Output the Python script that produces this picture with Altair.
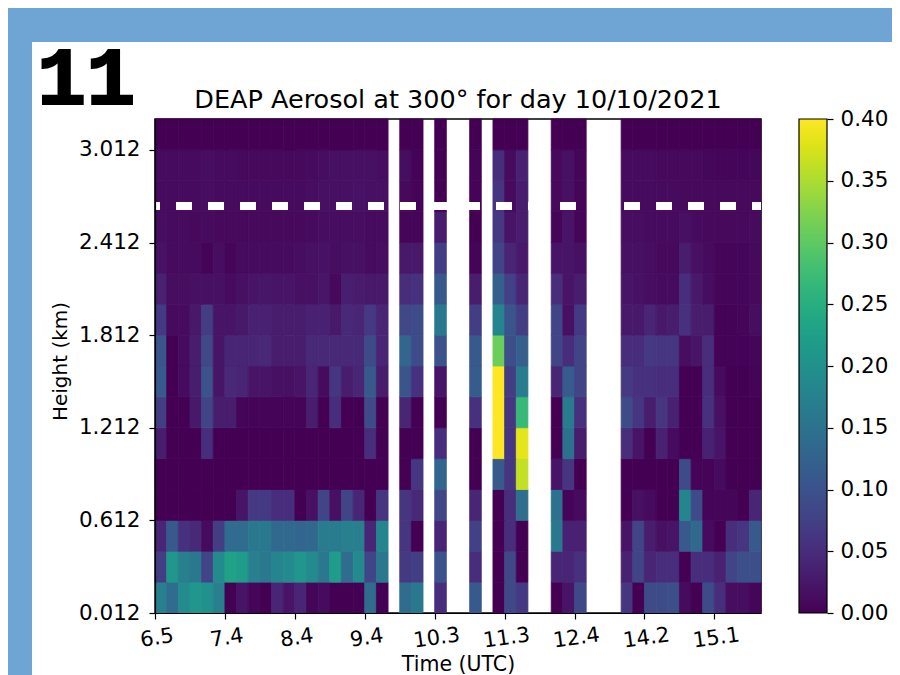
import json
import altair as alt
import pandas as pd

TITLE = "DEAP Aerosol at 300° for day 10/10/2021"
X_TICK_LABELS = ["6.5", "7.4", "8.4", "9.4", "10.3", "11.3", "12.4", "14.2", "15.1"]
Y_TICK_VALUES = [0.012, 0.612, 1.212, 1.812, 2.412, 3.012]
CBAR_TICKS = [0.0, 0.05, 0.10, 0.15, 0.20, 0.25, 0.30, 0.35, 0.40]
CBAR_COLORS = ["#440154", "#471365", "#482475", "#463480", "#414487", "#3b528b", "#355f8d",
               "#2f6c8e", "#2a788e", "#25848e", "#21918c", "#1e9c89", "#22a884", "#2fb47c",
               "#43bf71", "#5ec962", "#7ad151", "#9bd93c", "#bddf26", "#dfe318", "#fde725"]
DASH_HEIGHT = [2.648]
N_COLS = 52
Y0, STEP = 0.012, 0.2

# Columns that hold data (the rest are blank gaps)
COLS = list(range(20)) + [21, 22, 24, 27, 29, 30, 31, 34, 35, 36] + list(range(40, 52))

# One row per height bin, bottom to top
r00 = [.17,.14,.19,.21,.20,.17,0,.02,.005,0,.04,.02,.04,.005,.01,0,0,0,.14,0,
       .14,.16,.05,.11,0,.085,.065,0,.02,.085,
       .06,0,.09,.09,.095,.01,0,.09,.05,.012,.012,.005]
r01 = [.07,.21,.17,.16,.08,.19,.23,.22,.17,.16,.18,.19,.21,.19,.16,.22,.14,.19,.08,.16,
       .065,.07,.10,.05,0,.085,0,.04,.04,.055,
       .035,.08,.04,.05,.05,0,.05,.05,.035,.08,.095,.095]
r02 = [.04,.11,.055,.045,.01,.07,.14,.14,.16,.16,.135,.135,.13,.135,.165,.165,.17,.17,.04,.18,
       .06,0,.04,.075,0,.05,0,.16,.035,.035,
       .02,.08,.03,.015,.02,.11,.135,.01,0,.05,.06,.11]
r03 = [0,0,0,0,0,0,0,.02,.065,.065,.05,.05,0,.015,.08,.015,.08,.04,0,.06,
       .06,.045,.085,.04,0,.05,.145,.15,.005,.01,
       0,.015,.01,0,0,.18,.09,.005,.005,.005,0,.04]
r04 = [0,0,0,0,0,0,0,0,0,0,0,0,0,0,0,0,0,0,0,0,
       0,.06,.13,0,.11,.06,.365,.02,.06,0,
       0,0,0,0,0,.09,.003,.003,.01,0,0,0]
r05 = [.03,0,0,0,.05,0,0,0,0,0,0,0,0,0,0,0,0,0,.05,0,
       0,0,.05,0,.4,.06,.385,0,.15,.03,
       .05,.02,0,.035,.01,0,0,.035,.02,0,0,0]
r06 = [.07,0,0,.025,.08,.03,.03,.005,.003,.003,.003,.003,.003,.03,0,.05,0,0,.09,0,
       .04,0,0,.055,.4,.06,.27,0,.165,.055,
       .09,.06,.03,.06,.035,0,0,.055,.015,0,0,0]
r07 = [.11,0,.01,.03,.10,.02,.045,.04,.02,.02,.015,.015,.02,.04,.01,.06,.03,.04,.11,.03,
       .105,.055,.02,.115,.4,.07,.165,.04,.115,.08,
       .065,.055,.055,.05,.05,0,0,.05,.01,0,0,.003]
r08 = [.105,0,.01,.03,.085,.02,.04,.04,.04,.045,.03,.03,.03,.045,.045,.045,.045,.045,.09,.04,
       .13,.09,.10,.11,.31,.095,.12,.08,.05,.08,
       .05,.05,.065,.06,.06,.012,.02,.05,.002,.002,.002,.005]
r09 = [.065,.01,.01,.025,.07,.02,.02,.025,.035,.035,.03,.03,.03,.035,.035,.025,.045,.04,.065,.04,
       .085,.09,.16,.07,.18,.105,.07,.08,.015,.065,
       .025,.025,.04,.025,.03,.055,.03,.03,.002,.002,.005,.012]
r10 = [.035,.012,.012,.015,.015,.015,.01,.015,.02,.022,.02,.02,.015,.015,.022,.008,.032,.028,.025,.025,
       .05,.055,.11,.03,.12,.075,.04,.05,.02,.03,
       .02,.018,.012,.01,.01,.05,.025,.012,.005,.005,.005,.008]
r11 = [.018,.01,.01,.01,.003,.012,.005,.01,.01,.01,.01,.01,.012,.015,.018,.012,.015,.015,.01,.012,
       .025,.025,.07,.003,.08,.04,.025,.02,.02,.015,
       .015,.015,.012,.008,.008,.03,.015,.01,.005,.005,.005,.008]
r12 = [.012,.01,.01,.008,.01,.008,.008,.008,.008,.008,.008,.008,.008,.01,.012,.012,.012,.012,.01,.01,
       .005,.005,.03,0,.065,.02,.03,.005,.02,.005,
       .012,.012,.01,.01,.01,.015,.01,.008,.008,.008,.008,.01]
r13 = [.01,.01,.01,.01,.012,.01,.01,.01,.01,.01,.01,.01,.01,.012,.015,.015,.015,.018,.015,.015,
       .008,.003,0,.003,.06,.01,.03,.008,.015,.005,
       .01,.01,.01,.01,.01,.008,.008,.008,.008,.008,.008,.008]
r14 = [.01,.01,.01,.01,.012,.01,.01,.008,.008,.008,.008,.008,.008,.01,.012,.015,.015,.016,.016,.012,
       .012,.002,0,.003,.05,.01,.035,.008,.015,.005,
       .01,.01,.01,.008,.008,.008,.008,.006,.005,.005,.005,.006]
r15 = [0] * 42

ROWS = [r00, r01, r02, r03, r04, r05, r06, r07, r08, r09, r10, r11, r12, r13, r14, r15]

records = []
for r, row in enumerate(ROWS):
    for c, v in zip(COLS, row):
        records.append({"c0": c, "c1": c + 1,
                        "h0": Y0 + r * STEP, "h1": Y0 + (r + 1) * STEP, "v": v, "edge": v})
df = pd.DataFrame(records)

PW, PH = 606, 494
LEFT, TOP = 147, 111
RIGHT, BOTTOM = 884 - LEFT - PW, 667 - TOP - PH
FONT = "DejaVu Sans"
BLUE = "#6ea5d4"
LABEL_SIZE = 21.5

blank = pd.DataFrame({"a": [0]})
band_top = alt.Chart(blank).mark_rect(color=BLUE).encode(
    x=alt.value(-LEFT), x2=alt.value(PW + RIGHT), y=alt.value(-TOP), y2=alt.value(-TOP + 34))
band_left = alt.Chart(blank).mark_rect(color=BLUE).encode(
    x=alt.value(-LEFT), x2=alt.value(-LEFT + 24), y=alt.value(-TOP), y2=alt.value(PH + BOTTOM))

labels_js = json.dumps(X_TICK_LABELS)
x_enc = alt.X("c0:Q", scale=alt.Scale(domain=[0, N_COLS], nice=False, zero=False),
              axis=alt.Axis(values=list(range(0, 54, 6)), labelExpr=f"{labels_js}[datum.value/6]",
                            labelAngle=352, labelAlign="center", labelBaseline="top",
                            labelFontSize=21, labelFont=FONT, labelColor="black", labelPadding=8,
                            tickColor="black", tickSize=6, tickWidth=1.2,
                            domainColor="black", domainWidth=1.2, grid=False, zindex=1,
                            title="Time (UTC)", titleFont=FONT, titleFontSize=20.5,
                            titleFontWeight="normal", titleColor="black", titlePadding=3))
y_enc = alt.Y("h0:Q", scale=alt.Scale(domain=[Y0, Y0 + 16 * STEP], nice=False, zero=False),
              axis=alt.Axis(values=Y_TICK_VALUES, format=".3f",
                            labelFontSize=LABEL_SIZE, labelFont=FONT, labelColor="black", labelPadding=9,
                            tickColor="black", tickSize=6, tickWidth=1.2,
                            domainColor="black", domainWidth=1.2, grid=False, zindex=1,
                            title="Height (km)", titleFont=FONT, titleFontSize=20,
                            titleFontWeight="normal", titleColor="black", titlePadding=8,
                            titleY=242))

c_scale = alt.Scale(scheme="viridis", domain=[0, 0.4], clamp=True)
heat = alt.Chart(df).mark_rect(strokeWidth=0.8).encode(
    x=x_enc, x2="c1:Q", y=y_enc, y2="h1:Q",
    color=alt.Color("v:Q", scale=c_scale, legend=None),
    stroke=alt.Stroke("edge:Q", scale=c_scale, legend=None),
)

dash = alt.Chart(pd.DataFrame({"h": DASH_HEIGHT})).mark_rule(
    color="white", strokeWidth=8, strokeDash=[16, 16], strokeDashOffset=7
).encode(y=alt.Y("h:Q", scale=alt.Scale(domain=[Y0, Y0 + 16 * STEP], nice=False, zero=False), axis=None))

stops = [alt.GradientStop(color=c, offset=i / (len(CBAR_COLORS) - 1)) for i, c in enumerate(CBAR_COLORS)]
cbar = alt.Chart(blank).mark_rect(
    color=alt.LinearGradient(gradient="linear", stops=stops, x1=0, x2=0, y1=1, y2=0),
    stroke="black", strokeWidth=1.2,
).encode(x=alt.value(644), x2=alt.value(672), y=alt.value(0), y2=alt.value(PH))

cbar_axis = alt.Chart(pd.DataFrame({"t": CBAR_TICKS})).mark_point(opacity=0).encode(
    y=alt.Y("t:Q", scale=alt.Scale(domain=[0, 0.4], nice=False),
            axis=alt.Axis(orient="right", offset=66, values=CBAR_TICKS, format=".2f", domain=False,
                          labelFontSize=LABEL_SIZE, labelFont=FONT, labelColor="black", labelPadding=7,
                          ticks=True, tickColor="black", tickSize=6, tickWidth=1.2, grid=False,
                          title=None, zindex=1)))

number = alt.Chart(pd.DataFrame({"s": ["11"]})).mark_text(
    font="Liberation Mono", fontWeight="bold", fontSize=82, align="left", baseline="alphabetic",
    color="black", stroke="black", strokeWidth=2
).encode(x=alt.value(-118), y=alt.value(-15), text="s:N")

title_mark = alt.Chart(pd.DataFrame({"s": [TITLE]})).mark_text(
    font=FONT, fontSize=25.5, align="center", baseline="alphabetic", color="black"
).encode(x=alt.value(PW / 2), y=alt.value(-11), text="s:N")

chart = alt.layer(band_top, band_left, heat, dash, cbar, cbar_axis, number, title_mark).resolve_scale(
    y="independent"
).properties(
    width=PW, height=PH,
    padding={"left": LEFT, "top": TOP, "right": RIGHT, "bottom": BOTTOM},
    autosize=alt.AutoSizeParams(type="none"),
    background="white",
).configure_view(stroke="black", strokeWidth=1.5)

chart.save("out.html", embed_options={"renderer": "svg", "actions": False})
